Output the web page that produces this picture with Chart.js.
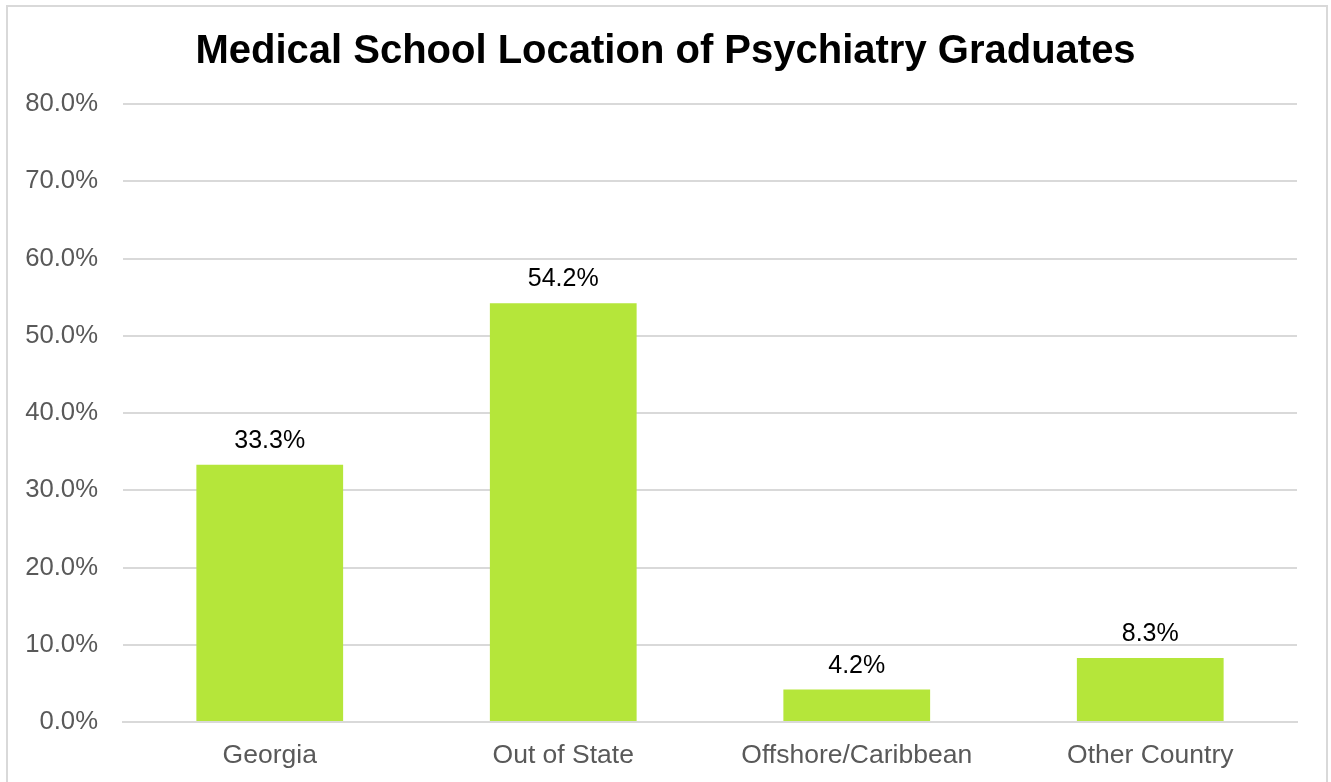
<!DOCTYPE html>
<html>
<head>
<meta charset="utf-8">
<script src="https://cdn.jsdelivr.net/npm/chart.js@4/dist/chart.umd.min.js"></script>
<style>
  body { margin: 0; background: #fff; overflow: hidden; }
  #frame { position: absolute; left: 6px; top: 5px; width: 1318px; height: 800px; border: 2px solid #d9d9d9; }
  #wrap { position: absolute; left: 0; top: 0; width: 1331px; height: 782px; }
</style>
</head>
<body>
<div id="frame"></div>
<div id="wrap"><canvas id="chart"></canvas></div>
<script>
// data
const categories = ['Georgia', 'Out of State', 'Offshore/Caribbean', 'Other Country']
const shares = [33.3, 54.2, 4.2, 8.3]
const yTicks = [0, 10, 20, 30, 40, 50, 60, 70, 80]

const barColor = '#b5e63a'
const font = 'Arial, "Liberation Sans", sans-serif'

// labels above bars
const valueLabels = {
	id: 'valueLabels',
	afterDatasetsDraw(chart) {
		const ctx = chart.ctx
		const meta = chart.getDatasetMeta(0)
		ctx.save()
		ctx.font = '25px ' + font
		ctx.fillStyle = '#000'
		ctx.textAlign = 'center'
		ctx.textBaseline = 'alphabetic'
		meta.data.forEach((bar, i) => {
			ctx.fillText(shares[i].toFixed(1) + '%', bar.x, bar.y - 17)
		})
		ctx.restore()
	}
}

new Chart('chart', {
	type: 'bar',
	data: {
		labels: categories,
		datasets: [{
			data: shares,
			backgroundColor: barColor,
			barPercentage: 0.5,
			categoryPercentage: 1
		}]
	},
	options: {
		responsive: true,
		maintainAspectRatio: false,
		animation: false,
		layout: { padding: 0 },
		plugins: {
			legend: { display: false },
			tooltip: { enabled: false },
			title: {
				display: true,
				text: 'Medical School Location of Psychiatry Graduates',
				color: '#000',
				font: { family: font, size: 40, weight: 'bold', lineHeight: 1.2 },
				padding: { top: 28, bottom: 28 }
			}
		},
		scales: {
			x: {
				grid: { display: false },
				border: { display: true, color: '#d9d9d9', width: 2 },
				ticks: { color: '#595959', font: { family: font, size: 26.5 }, padding: 10, maxRotation: 0 },
				afterFit: scale => { scale.height = 60 }
			},
			y: {
				min: 0,
				max: 80,
				afterBuildTicks: scale => { scale.ticks = yTicks.map(v => ({ value: v })) },
				grid: { color: '#d9d9d9', lineWidth: 2, drawTicks: false },
				border: { display: false },
				ticks: {
					color: '#595959',
					font: { family: font, size: 25.7 },
					padding: 25,
					callback: v => v.toFixed(1) + '%'
				},
				afterFit: scale => { scale.width = 123 }
			},
			// empty right margin
			yRight: {
				position: 'right',
				grid: { display: false },
				border: { display: false },
				ticks: { display: false },
				afterFit: scale => { scale.width = 34 }
			}
		}
	},
	plugins: [valueLabels]
})
</script>
</body>
</html>
